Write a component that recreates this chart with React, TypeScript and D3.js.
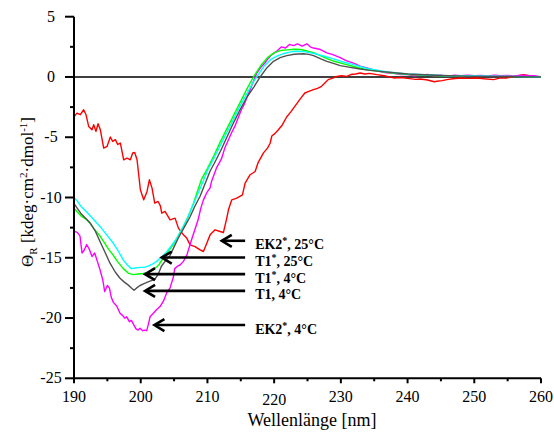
import React from "react";
import * as d3 from "d3";

// ---- data (wavelength nm, Θ_R kdeg·cm²·dmol⁻¹) ----
const ek2_25: [number, number][] = [
  [190.0, -3.3], [190.45, -3.0], [190.95, -3.13], [191.45, -2.72], [191.8, -3.13], [192.2, -4.1],
  [192.7, -4.38], [192.95, -3.96], [193.3, -4.52], [193.6, -3.88], [193.95, -4.38], [194.45, -5.9],
  [194.95, -5.76], [195.45, -4.98], [195.8, -5.35], [196.2, -5.2], [196.55, -5.6], [196.95, -5.48],
  [197.45, -6.87], [197.95, -6.73], [198.45, -6.87], [198.8, -6.31], [199.1, -6.26], [199.45, -6.87],
  [199.95, -9.36], [200.45, -10.19], [200.95, -9.5], [201.3, -8.53], [201.7, -9.22], [202.1, -10.47],
  [202.6, -10.33], [202.95, -10.69], [203.15, -11.3], [203.65, -11.16], [204.4, -11.85], [205.15, -11.71],
  [205.65, -12.54], [206.4, -13.1], [206.9, -13.37], [207.4, -13.93], [208.15, -14.07], [208.9, -14.35],
  [209.4, -14.48], [209.9, -13.79], [210.4, -13.1], [211.15, -12.68], [211.9, -12.82], [212.4, -12.9],
  [212.9, -11.71], [213.15, -11.02], [213.65, -10.19], [214.4, -10.05], [215.25, -9.78], [215.65, -8.8],
  [216.4, -8.11], [217.15, -7.84], [217.6, -7.1], [218.4, -6.3], [219.0, -5.9], [219.4, -5.5],
  [219.65, -4.9], [220.1, -4.7], [220.6, -4.4], [221.2, -4.0], [221.9, -3.3], [222.5, -2.9],
  [223.1, -2.44], [223.8, -1.9], [224.6, -1.33], [225.2, -1.2], [225.9, -1.05], [226.5, -0.95],
  [227.1, -0.78], [227.6, -0.5], [228.1, -0.22], [228.8, -0.1], [229.4, 0.05], [230.1, 0.1],
  [230.9, 0.05], [231.5, 0.2], [232.2, 0.25], [232.9, 0.33], [233.6, 0.25], [234.3, 0.3],
  [235.4, 0.19], [236.5, 0.1], [237.9, -0.08], [239.0, -0.05], [240.0, -0.12], [241.2, -0.2],
  [241.9, -0.17], [243.0, -0.25], [244.0, -0.4], [244.4, -0.36], [245.2, -0.3], [245.9, -0.22],
  [246.8, -0.15], [247.9, -0.08], [249.0, -0.12], [250.4, -0.08], [251.5, -0.15], [252.9, -0.22],
  [253.8, -0.1], [254.9, -0.08], [256.0, 0.05], [257.4, 0.19], [258.3, 0.1], [259.2, 0.05], [260.0, 0.0],
];

const ek2_4: [number, number][] = [
  [190.0, -12.8], [190.5, -12.9], [190.9, -13.2], [191.2, -14.6], [191.5, -14.4], [191.9, -13.9],
  [192.3, -14.3], [192.7, -14.9], [193.1, -14.6], [193.5, -15.3], [193.9, -16.0], [194.3, -16.8],
  [194.6, -17.8], [195.0, -17.3], [195.3, -17.5], [195.6, -18.3], [195.9, -18.7], [196.4, -19.0],
  [196.9, -19.6], [197.3, -19.8], [197.6, -20.0], [197.9, -19.9], [198.3, -20.3], [198.6, -20.2],
  [198.9, -20.5], [199.3, -20.9], [199.6, -21.0], [199.9, -20.85], [200.3, -21.05], [200.6, -21.0],
  [200.9, -21.05], [201.2, -20.4], [201.4, -19.9], [201.9, -19.6], [202.4, -19.3], [202.9, -19.05],
  [203.4, -18.6], [203.9, -17.9], [204.4, -17.5], [204.9, -16.6], [205.1, -15.9], [205.5, -15.7],
  [205.9, -15.6], [206.4, -15.3], [206.9, -14.8], [207.4, -13.9], [207.8, -13.2], [208.1, -12.7],
  [208.6, -11.85], [209.0, -10.9], [209.4, -10.2], [209.9, -9.6], [210.4, -9.2], [210.6, -8.7],
  [211.0, -8.1], [211.4, -7.5], [212.1, -6.8], [212.6, -5.9], [213.6, -4.65], [214.1, -4.1],
  [215.1, -2.7], [215.4, -2.4], [216.4, -1.05], [217.4, 0.33], [218.0, 0.8], [218.6, 1.16],
  [219.2, 1.6], [219.65, 1.85], [220.3, 2.1], [221.1, 2.5], [221.7, 2.4], [222.3, 2.7],
  [222.9, 2.6], [223.5, 2.75], [224.2, 2.55], [224.9, 2.75], [225.4, 2.5], [225.9, 2.4],
  [226.8, 2.3], [227.9, 2.0], [228.8, 1.85], [229.9, 1.6], [230.8, 1.35], [231.9, 1.15],
  [232.9, 0.9], [233.9, 0.75], [234.8, 0.6], [235.9, 0.45], [236.8, 0.35], [237.9, 0.3],
  [239.0, 0.2], [240.0, 0.2], [241.0, 0.1], [242.0, 0.15], [243.0, 0.2], [244.0, 0.1],
  [245.0, 0.15], [246.0, 0.05], [247.0, 0.15], [248.0, 0.1], [249.0, 0.15], [250.0, 0.1],
  [251.0, 0.12], [252.0, 0.08], [253.0, 0.15], [254.0, 0.1], [255.0, 0.12], [256.0, 0.08],
  [257.0, 0.15], [258.0, 0.1], [259.0, 0.1], [260.0, 0.0],
];

const t1s_4: [number, number][] = [
  [190, -10.9], [190.5, -11.2], [191, -11.5], [191.9, -11.85], [192.5, -12.2], [193, -12.6],
  [193.9, -13.2], [194.5, -13.7], [195.2, -14.3], [195.9, -14.8], [196.5, -15.3], [197.4, -15.9],
  [198.2, -16.3], [198.9, -16.4], [199.6, -16.35], [200.4, -16.3], [201.2, -16.2], [201.9, -16.0],
  [202.7, -15.6], [203.4, -15.0], [204.2, -14.4], [204.9, -13.9], [205.6, -13.2], [206.4, -12.4],
  [207.2, -11.5], [207.9, -10.5], [209.1, -8.5], [210, -7.6], [211, -6.5], [212, -5.3],
  [213, -4.2], [214, -3.1], [215, -2.0], [216, -0.9], [217, 0.1], [218, 0.95],
  [219, 1.6], [220, 2.0], [221, 2.2], [222, 2.25], [223, 2.3], [224, 2.28],
  [225, 2.15], [226, 2.0], [227, 1.75], [228, 1.5], [229, 1.3], [230, 1.15],
  [231, 1.0], [232, 0.85], [233, 0.7], [234, 0.6], [236, 0.45], [238, 0.3],
  [240, 0.2], [245, 0.1], [250, 0.05], [255, 0.05], [260, 0.0],
];

const t1s_25: [number, number][] = [
  [190, -10.0], [190.5, -10.3], [191, -10.7], [191.9, -11.2], [192.9, -11.8], [193.9, -12.4],
  [194.9, -13.1], [195.9, -13.8], [196.7, -14.5], [197.4, -15.2], [198, -15.6], [198.6, -15.9],
  [199.2, -15.85], [199.9, -15.8], [200.5, -15.8], [201.1, -15.7], [201.8, -15.5], [202.4, -15.3],
  [203.2, -14.9], [203.9, -14.5], [204.6, -14.0], [205.4, -13.4], [206.2, -12.6], [206.9, -11.85],
  [207.7, -10.8], [208.4, -9.9], [209.4, -8.6], [210.05, -7.7], [211, -6.7], [212, -5.6],
  [213, -4.5], [214, -3.4], [215, -2.3], [216, -1.3], [217, -0.3], [217.4, 0.0],
  [218.5, 0.9], [219.5, 1.45], [220.5, 1.75], [221.5, 1.95], [222.5, 2.08], [223.4, 2.13],
  [224.5, 2.1], [225.5, 2.0], [226.5, 1.88], [227.5, 1.72], [228.4, 1.58], [229.5, 1.4],
  [230.5, 1.22], [231.9, 1.02], [233, 0.85], [234, 0.7], [236, 0.5], [238, 0.35],
  [240, 0.25], [245, 0.12], [250, 0.08], [255, 0.05], [260, 0.0],
];

const t1_4: [number, number][] = [
  [190, -10.5], [191, -11.3], [191.7, -11.7], [192.4, -12.1], [193.2, -12.8], [193.9, -13.65],
  [194.7, -14.6], [195.4, -15.45], [196.2, -16.2], [196.9, -16.7], [197.5, -17.0], [198.1, -17.25],
  [198.6, -17.5], [199.0, -17.7], [199.4, -17.5], [199.9, -17.3], [200.5, -17.15], [201.1, -17.0],
  [201.6, -16.9], [202.1, -16.8], [202.6, -16.4], [203.1, -15.7], [203.8, -15.2], [204.4, -14.8],
  [205.0, -14.1], [205.6, -13.4], [206.5, -12.5], [207.4, -11.6], [208.1, -10.75], [208.9, -9.9],
  [209.9, -8.5], [210.4, -7.8], [211, -7.2], [212, -6.1], [213, -4.9], [214, -3.7],
  [215, -2.6], [216, -1.6], [217, -0.8], [217.9, 0.0], [218.9, 0.75], [219.9, 1.3],
  [220.9, 1.6], [221.9, 1.77], [223, 1.88], [224.4, 1.93], [225.2, 1.87], [225.9, 1.77],
  [227, 1.5], [227.9, 1.3], [229, 1.1], [229.9, 0.94], [231.4, 0.8], [232.9, 0.66],
  [234.4, 0.55], [235.9, 0.46], [238, 0.35], [240, 0.25], [245, 0.12], [250, 0.05],
  [255, 0.03], [260, 0.0],
];

const series = [
  { name: "EK2*, 25°C", data: ek2_25, color: "#ff0000" },
  { name: "EK2*, 4°C", data: ek2_4, color: "#ff00ff" },
  { name: "T1*, 4°C", data: t1s_4, color: "#00ff00" },
  { name: "T1*, 25°C", data: t1s_25, color: "#00ffff" },
  { name: "T1, 4°C", data: t1_4, color: "#505050" },
];

const xTicks = [190, 200, 210, 220, 230, 240, 250, 260];
const xMinorTicks = [195, 205, 215, 225, 235, 245, 255];
const yTicks = [5, 0, -5, -10, -15, -20, -25];
const yMinorTicks = [2.5, -2.5, -7.5, -12.5, -17.5, -22.5];

// annotation arrows
const annLabels = ["EK2", "T1", "T1", "T1", "EK2"];
const annStars = [true, true, true, false, true];
const annRest = [", 25°C", ", 25°C", ", 4°C", ", 4°C", ", 4°C"];
const annY = [-13.59, -14.98, -16.36, -17.75, -20.58];
const annTip = [212.15, 203.15, 200.65, 200.65, 202.05];
const annTail = 215.65;
const annText = 217.15;

const W = 554;
const H = 432;
const FONT = '"Liberation Serif", "Times New Roman", Times, "DejaVu Serif", serif';

export default function App() {
  const x = d3.scaleLinear().domain([190, 260]).range([74, 541]);
  const y = d3.scaleLinear().domain([-25, 5]).range([378.3, 16.7]);
  const line = d3
    .line<[number, number]>()
    .x((d) => x(d[0]))
    .y((d) => y(d[1]));

  const x0 = x(190);
  const yBottom = y(-25);
  const ts: React.CSSProperties = { fontFamily: FONT };

  return (
    <svg
      width={W}
      height={H}
      viewBox={`0 0 ${W} ${H}`}
      style={{ position: "absolute", left: 0, top: 0, background: "#fff", fontFamily: FONT }}
    >
      <rect x={0} y={0} width={W} height={H} fill="#fff" />
      <line x1={x0} x2={x(260)} y1={y(0)} y2={y(0)} stroke="#000" strokeWidth={1.5} />

      {series.map((s) => (
        <path
          key={s.name}
          d={line(s.data) || ""}
          fill="none"
          stroke={s.color}
          strokeWidth={1.4}
          strokeLinejoin="round"
        />
      ))}

      <line x1={x0} x2={x0} y1={y(5)} y2={yBottom + 1} stroke="#000" strokeWidth={2} />
      <line x1={x0 - 1} x2={x(260)} y1={yBottom} y2={yBottom} stroke="#000" strokeWidth={2} />

      {yTicks.map((t) => (
        <g key={"yt" + t}>
          <line x1={x0 - 9} x2={x0} y1={y(t)} y2={y(t)} stroke="#000" strokeWidth={2} />
          <text x={51} y={y(t) + 5} textAnchor="middle" fontSize={16} fill="#000" style={ts}>
            {String(t)}
          </text>
        </g>
      ))}
      {yMinorTicks.map((t) => (
        <line key={"ym" + t} x1={x0 - 4} x2={x0} y1={y(t)} y2={y(t)} stroke="#000" strokeWidth={2} />
      ))}

      {xTicks.map((t) => (
        <g key={"xt" + t}>
          <line x1={x(t)} x2={x(t)} y1={yBottom} y2={yBottom + 5} stroke="#000" strokeWidth={2} />
          <text
            x={x(t)}
            y={yBottom + 24 + (t === 220 ? 3 : 0)}
            textAnchor="middle"
            fontSize={16}
            fill="#000"
            style={ts}
          >
            {String(t)}
          </text>
        </g>
      ))}
      {xMinorTicks.map((t) => (
        <line key={"xm" + t} x1={x(t)} x2={x(t)} y1={yBottom} y2={yBottom + 3} stroke="#000" strokeWidth={2} />
      ))}

      <text x={312} y={426} textAnchor="middle" fontSize={18} fill="#000" style={ts}>
        Wellenlänge [nm]
      </text>
      <text
        transform={`translate(33, 192) rotate(-90)`}
        textAnchor="middle"
        fontSize={17}
        fill="#000"
        style={ts}
      >
        Θ
        <tspan fontSize={11} dy={4}>R</tspan>
        <tspan dy={-4}> [kdeg·cm</tspan>
        <tspan fontSize={11} dy={-6}>2</tspan>
        <tspan dy={6}>·dmol</tspan>
        <tspan fontSize={11} dy={-6}>-1</tspan>
        <tspan dy={6}>]</tspan>
      </text>

      {annY.map((v, i) => {
        const yy = y(v);
        const tx = x(annTip[i]);
        return (
          <g key={"ann" + i}>
            <line x1={tx + 1} x2={x(annTail)} y1={yy} y2={yy} stroke="#000" strokeWidth={2.6} />
            <polyline
              points={`${tx + 10},${yy - 6} ${tx},${yy} ${tx + 10},${yy + 6}`}
              fill="none"
              stroke="#000"
              strokeWidth={2.6}
            />
            <text x={x(annText)} y={yy + 8.5} fontSize={14} fontWeight="bold" fill="#000" style={ts}>
              {annLabels[i]}
              {annStars[i] ? <tspan fontSize={10} dy={-5}>*</tspan> : null}
              <tspan dy={annStars[i] ? 5 : 0}>{annRest[i]}</tspan>
            </text>
          </g>
        );
      })}
    </svg>
  );
}
